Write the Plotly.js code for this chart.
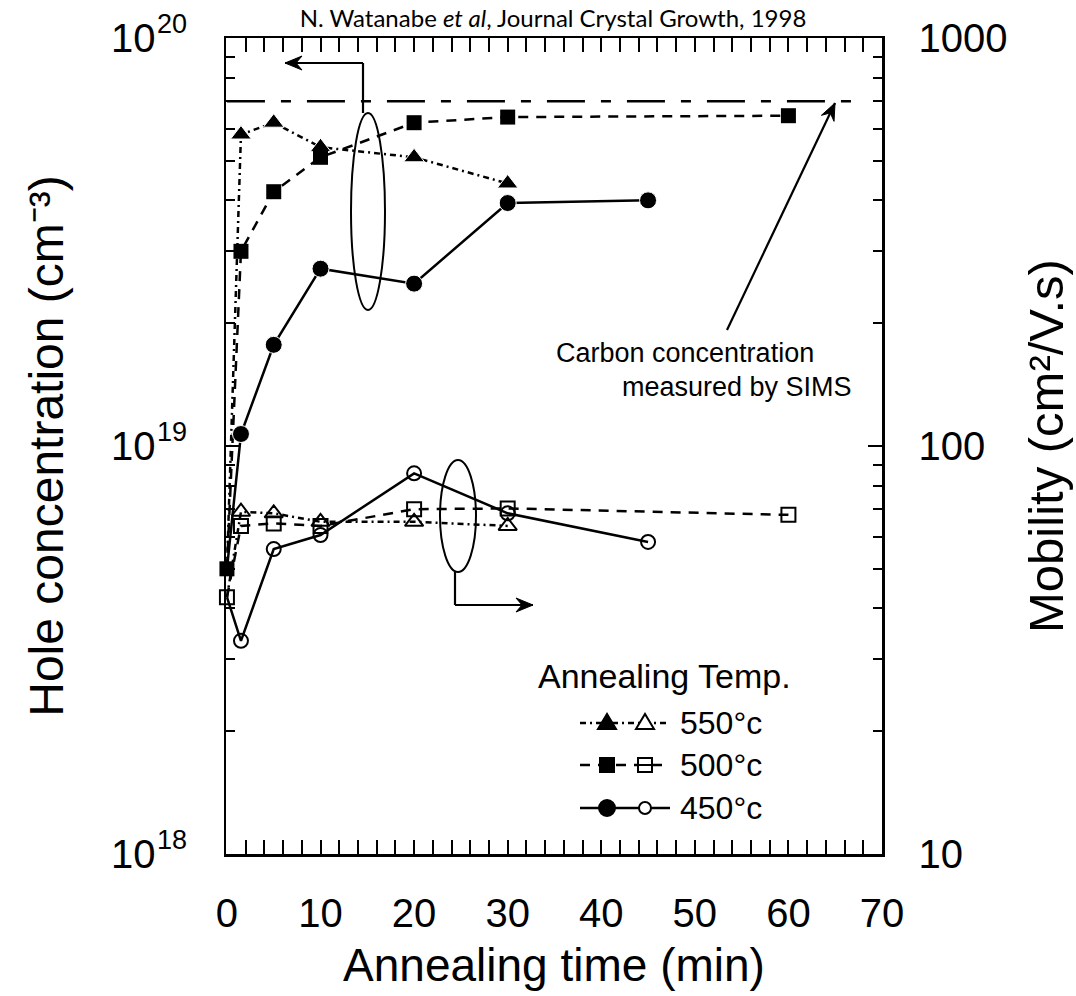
<!DOCTYPE html>
<html>
<head>
<meta charset="utf-8">
<script src="https://cdn.plot.ly/plotly-3.0.1.min.js"></script>
<style>html,body{margin:0;padding:0;background:#fff;}#chart{width:1076px;height:996px;}</style>
</head>
<body>
<div id="chart"></div>
<script>
// ---- data ----
const time550 = [0, 1.5, 5, 10, 20, 30];
const hole550 = [5.0e18, 5.8e19, 6.2e19, 5.4e19, 5.1e19, 4.4e19];
const mob550  = [42.6, 69, 68.4, 65.2, 65.2, 63.7];

const time500 = [0, 1.5, 5, 10, 20, 30, 60];
const hole500 = [5.0e18, 3.0e19, 4.2e19, 5.1e19, 6.2e19, 6.4e19, 6.45e19];
const mob500  = [42.6, 63.7, 64.6, 63.7, 70, 70.3, 67.8];

const time450 = [0, 1.5, 5, 10, 20, 30, 45];
const hole450 = [5.0e18, 1.07e19, 1.77e19, 2.72e19, 2.5e19, 3.94e19, 4.0e19];
const mob450  = [42.6, 33.3, 55.9, 60.5, 85.7, 68.4, 58.2];

const simsTime = [0, 67];
const simsCarbon = [7.0e19, 7.0e19];

const xTickVals = [0, 10, 20, 30, 40, 50, 60, 70];
const yTickVals = [1e18, 1e19, 1e20];
const yTickBase = ['10', '10', '10'];
const yTickExp = ['18', '19', '20'];
const y2TickVals = [10, 100, 1000];
const y2TickText = ['10', '100', '1000'];
const legendLabels = ['550\u00B0c', '500\u00B0c', '450\u00B0c'];

// ---- layout geometry (pixels) ----
const W = 1076, H = 996, L = 226, R = 882, T = 38, B = 854;
const px = x => (x - L) / (R - L);
const py = y => (B - y) / (B - T);
const Y0 = 18, Y1 = 20;               // left axis log range
const logPaper = v => (Math.log10(v) - Y0) / (Y1 - Y0);

const minorLog = (d0, d1) => { const a = []; for (let d = d0; d < d1; d++) for (let k = 2; k <= 9; k++) a.push(k * Math.pow(10, d)); return a; };

const FONT = 'Liberation Sans, Arial, Helvetica, sans-serif';
const dash550 = '6px,4px,2px,4px';
const dash500 = '10px,8px';
const LW = 2.5;

const sizeSkip0 = (arr, s) => arr.map(t => (t === 0 ? 0 : s));

const traces = [
  {x: simsTime, y: simsCarbon, mode: 'lines', line: {color: '#000', width: LW, dash: '38px,16px,10px,16px'}, yaxis: 'y', name: 'Carbon (SIMS)'},
  // hole concentration (left axis), filled markers
  {x: time550, y: hole550, mode: 'lines+markers', name: '550°c hole', line: {color: '#000', width: LW, dash: dash550},
   marker: {symbol: 'triangle-up', color: '#000', opacity: 1, size: sizeSkip0(time550, 18)}, cliponaxis: false},
  {x: time500, y: hole500, mode: 'lines+markers', name: '500°c hole', line: {color: '#000', width: LW, dash: dash500},
   marker: {symbol: 'square', color: '#000', opacity: 1, size: 15}, cliponaxis: false},
  {x: time450, y: hole450, mode: 'lines+markers', name: '450°c hole', line: {color: '#000', width: LW},
   marker: {symbol: 'circle', color: '#000', opacity: 1, size: sizeSkip0(time450, 17)}, cliponaxis: false},
  // mobility (right axis), open markers
  {x: time550, y: mob550, yaxis: 'y2', mode: 'lines+markers', name: '550°c mobility', line: {color: '#000', width: LW, dash: dash550},
   marker: {symbol: 'triangle-up-open', color: '#000', opacity: 1, size: sizeSkip0(time550, 16), line: {width: 2}}, cliponaxis: false},
  {x: time500, y: mob500, yaxis: 'y2', mode: 'lines+markers', name: '500°c mobility', line: {color: '#000', width: LW, dash: dash500},
   marker: {symbol: 'square-open', color: '#000', opacity: 1, size: 14, line: {width: 2}}, cliponaxis: false},
  {x: time450, y: mob450, yaxis: 'y2', mode: 'lines+markers', name: '450°c mobility', line: {color: '#000', width: LW},
   marker: {symbol: 'circle-open', color: '#000', opacity: 1, size: sizeSkip0(time450, 14), line: {width: 2}}, cliponaxis: false}
];

const axisCommon = {
  showline: true, linecolor: '#000', linewidth: 2.5, showgrid: false, zeroline: false,
  ticks: 'inside', tickcolor: '#000', tickwidth: 2, ticklen: 14,
  tickfont: {family: FONT, size: 40, color: '#000'},
  automargin: false
};

const shapes = [];
const annotations = [];

// exponents of the left tick labels (10^n), placed after the "10"
yTickVals.forEach((v, i) => {
  annotations.push({xref: 'paper', yref: 'paper', x: px(155), y: logPaper(v), xanchor: 'left', yanchor: 'middle', yshift: 14,
    showarrow: false, text: yTickExp[i], font: {family: FONT, size: 27, color: '#000'}});
});

// arrowhead path (pixel coordinates, y up) for a tip at (0,0) pointing along (dx, dy)
const arrowHead = (dx, dy) => {
  const n = Math.hypot(dx, dy), ux = dx / n, uy = dy / n, vx = -uy, vy = ux;
  const len = 17, half = 7, notch = 11;
  const p = (a, b) => (a).toFixed(2) + ',' + (b).toFixed(2);
  return 'M0,0 L' + p(-len * ux + half * vx, -len * uy + half * vy) + ' L' + p(-notch * ux, -notch * uy) +
         ' L' + p(-len * ux - half * vx, -len * uy - half * vy) + ' Z';
};
const addArrow = (x0, y0, x1, y1) => {
  shapes.push({type: 'line', xref: 'paper', yref: 'paper', x0: px(x0), y0: py(y0), x1: px(x1), y1: py(y1), line: {color: '#000', width: 2.2}});
  shapes.push({type: 'path', xref: 'paper', yref: 'paper', xsizemode: 'pixel', ysizemode: 'pixel', xanchor: px(x1), yanchor: py(y1),
    path: arrowHead(x1 - x0, -(y1 - y0)), fillcolor: '#000', line: {color: '#000', width: 1}});
};

// legend (decoration)
const legY = [723, 765, 808];
const legX0 = 580, legX1 = 670, legM1 = 607, legM2 = 645, legT = 678;
const legDash = [dash550, dash500, 'solid'];
legY.forEach((yy, i) => {
  shapes.push({type: 'line', xref: 'paper', yref: 'paper', x0: px(legX0), x1: px(legX1), y0: py(yy), y1: py(yy), line: {color: '#000', width: LW, dash: legDash[i]}});
  annotations.push({xref: 'paper', yref: 'paper', x: px(legT), y: py(yy), xanchor: 'left', yanchor: 'middle', showarrow: false,
    text: legendLabels[i], font: {family: FONT, size: 32, color: '#000'}});
});
const tri = 'M-9,-6 L9,-6 L0,9 Z';
const mk = (x, y, i, filled) => {
  const base = {xref: 'paper', yref: 'paper', xsizemode: 'pixel', ysizemode: 'pixel', xanchor: px(x), yanchor: py(y),
    line: {color: '#000', width: 2}, fillcolor: filled ? '#000' : '#fff'};
  if (i === 0) return Object.assign(base, {type: 'path', path: tri});
  if (i === 1) return Object.assign(base, {type: 'rect', x0: -7, x1: 7, y0: -7, y1: 7});
  return Object.assign(base, {type: 'circle', x0: filled ? -8 : -6, x1: filled ? 8 : 6, y0: filled ? -8 : -6, y1: filled ? 8 : 6});
};
legY.forEach((yy, i) => { shapes.push(mk(legM1, yy, i, true)); shapes.push(mk(legM2, yy, i, false)); });
shapes.push({type: 'line', xref: 'paper', yref: 'paper', x0: px(legM2 - 7), x1: px(legM2 + 7), y0: py(legY[1]), y1: py(legY[1]), line: {color: '#000', width: 2}});

annotations.push({xref: 'paper', yref: 'paper', x: px(664), y: py(676), xanchor: 'center', yanchor: 'middle', showarrow: false,
  text: 'Annealing Temp.', font: {family: FONT, size: 34, color: '#000'}});

// group ellipses and arrows
shapes.push({type: 'circle', xref: 'paper', yref: 'paper', x0: px(351), x1: px(385), y0: py(310), y1: py(113), line: {color: '#000', width: 2}});
shapes.push({type: 'line', xref: 'paper', yref: 'paper', x0: px(363), x1: px(363), y0: py(113), y1: py(63), line: {color: '#000', width: 2.2}});
addArrow(363, 63, 285, 63);

shapes.push({type: 'circle', xref: 'paper', yref: 'paper', x0: px(440), x1: px(476), y0: py(572), y1: py(460), line: {color: '#000', width: 2}});
shapes.push({type: 'line', xref: 'paper', yref: 'paper', x0: px(455), x1: px(455), y0: py(572), y1: py(605), line: {color: '#000', width: 2.2}});
addArrow(455, 605, 533, 605);

addArrow(727, 330, 835, 103);

annotations.push({xref: 'paper', yref: 'paper', x: px(816), y: py(353), xanchor: 'right', yanchor: 'middle', showarrow: false,
  text: 'Carbon concentration', font: {family: FONT, size: 27, color: '#000'}});
annotations.push({xref: 'paper', yref: 'paper', x: px(854), y: py(387), xanchor: 'right', yanchor: 'middle', showarrow: false,
  text: 'measured by SIMS', font: {family: FONT, size: 27, color: '#000'}});

const layout = {
  width: W, height: H,
  margin: {l: L, r: W - R, t: T, b: H - B, pad: 0},
  paper_bgcolor: '#fff', plot_bgcolor: '#fff',
  showlegend: false,
  font: {family: FONT, color: '#000'},
  title: {text: 'N. Watanabe <i>et al</i>, Journal Crystal Growth, 1998', font: {family: 'Lato, Open Sans, sans-serif', size: 24, color: '#000'},
    x: 0.514, xanchor: 'center', y: 0.981, yanchor: 'middle'},
  xaxis: Object.assign({}, axisCommon, {
    range: [-0.1, 70], tickvals: xTickVals, mirror: 'allticks', ticklabelstandoff: 22,
    minor: {dtick: 2, tick0: 0, ticks: 'inside', ticklen: 7, tickwidth: 2, tickcolor: '#000'},
    title: {text: 'Annealing time (min)', font: {family: FONT, size: 46, color: '#000'}, standoff: 16}
  }),
  yaxis: Object.assign({}, axisCommon, {
    type: 'log', range: [Y0, Y1], tickmode: 'array', tickvals: yTickVals, ticktext: yTickBase, ticklabelstandoff: 60,
    minor: {tickmode: 'array', tickvals: minorLog(18, 20), ticks: 'inside', ticklen: 9, tickwidth: 2, tickcolor: '#000'},
    title: {text: 'Hole concentration (cm\u207B\u00B3)', font: {family: FONT, size: 48, color: '#000'}, standoff: 32}
  }),
  yaxis2: Object.assign({}, axisCommon, {
    type: 'log', range: [1, 3], overlaying: 'y', side: 'right', tickmode: 'array', tickvals: y2TickVals, ticktext: y2TickText, ticklabelstandoff: 26,
    minor: {tickmode: 'array', tickvals: minorLog(1, 3), ticks: 'inside', ticklen: 9, tickwidth: 2, tickcolor: '#000'},
    title: {text: 'Mobility (cm\u00B2/V.s)', font: {family: FONT, size: 49, color: '#000'}, standoff: 22}
  }),
  shapes: shapes,
  annotations: annotations
};

Plotly.newPlot('chart', traces, layout, {displayModeBar: false, staticPlot: true});
</script>
</body>
</html>
